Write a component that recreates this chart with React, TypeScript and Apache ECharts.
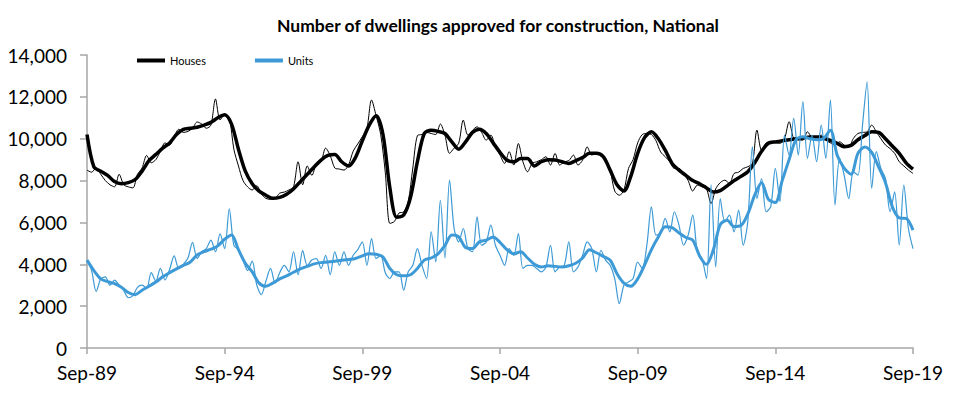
import React, { useEffect, useRef } from "react";
import * as echarts from "echarts";

const titleText = "Number of dwellings approved for construction, National";
const xLabels = ["Sep-89", "Sep-94", "Sep-99", "Sep-04", "Sep-09", "Sep-14", "Sep-19"];

// Trend series, quarterly (Sep-89 .. Sep-19)
const housesTrend = [
  10200, 8650, 8450, 8250, 7950, 7850, 7900, 8050, 8450, 8950, 9250, 9550,
  9800, 10200, 10450, 10500, 10550, 10650, 10780, 11000, 11150, 10700, 9500, 8450,
  7850, 7500, 7300, 7150, 7200, 7350, 7600, 7950, 8300, 8650, 8980, 9200,
  9250, 8900, 8700, 9100, 9900, 10650, 11100, 10200, 7650, 6250, 6350, 7200,
  8900, 10250, 10400, 10350, 10250, 9850, 9500, 9850, 10300, 10450, 10250, 9800,
  9350, 8980, 8900, 9050, 9050, 8700, 8900, 9000, 8980, 8900, 8820, 8950,
  9100, 9300, 9300, 9140, 8500, 7800, 7500, 8200, 9300, 10050, 10330, 10000,
  9450, 8820, 8500, 8250, 8000, 7850, 7650, 7450, 7520, 7750, 8000, 8200,
  8420, 8850, 9400, 9780, 9850, 9900, 9950, 10000, 10030, 10080, 10080, 10020,
  9920, 9780, 9620, 9680, 9950, 10150, 10330, 10300, 10000, 9650, 9300, 8850,
  8550,
];

const unitsTrend = [
  4200, 3700, 3300, 3170, 3080, 2900, 2650, 2550, 2760, 2950, 3150, 3400,
  3600, 3780, 3950, 4110, 4450, 4600, 4720, 4880, 5200, 5400, 4700, 4050,
  3640, 3100, 2950, 3100, 3300, 3450, 3620, 3780, 3900, 4020, 4080, 4110,
  4150, 4190, 4230, 4280, 4400, 4500, 4480, 4350, 3800, 3500, 3450, 3500,
  3800, 4200, 4300, 4500, 4900, 5400, 5310, 4800, 4750, 5070, 5150, 5300,
  5050, 4700, 4500, 4600, 4300, 4000, 3870, 3930, 3900, 3870, 3930, 4050,
  4300, 4700, 4550, 4380, 4200, 3550, 3100, 2950, 3300, 3960, 4700, 5300,
  5790, 5750, 5500, 5280, 5150, 4400, 4000, 4700, 5900, 6100, 5800, 5850,
  6400, 7300, 7900, 7100, 6950, 8000, 9000, 9950, 10090, 10000, 9950, 10010,
  10410, 9200, 8600, 8300, 9300, 9610, 9350, 8650, 7900, 6750, 6220, 6190,
  5630,
];

// Seasonally adjusted series, every second month (Sep-89 .. Sep-19)
const housesSA = [
  8500, 8400, 8600, 8300, 8000, 7800, 7700, 8300, 7800, 7700,
  7650, 8300, 8600, 9200, 8850, 9000, 9400, 9800, 9700, 10100,
  10450, 10300, 10350, 10500, 10800, 10700, 10500, 10650, 11900, 10900,
  11150, 11000, 9500, 8700, 8000, 7700, 7550, 7750, 7350, 7150,
  7100, 7150, 7400, 7450, 7550, 7700, 8900, 7800, 8700, 8250,
  8800, 8900, 9550, 9200, 8600, 8550, 8500, 8750, 9400, 9750,
  10100, 10500, 11850, 11100, 10200, 8400, 5950, 6050, 6450, 6500,
  7000, 8600, 10150, 10200, 10300, 10250, 10200, 10700, 10170, 9300,
  9550, 9780, 10890, 10170, 10400, 10570, 10300, 9930, 10170, 9610,
  9220, 8820, 9380, 8740, 9770, 8900, 8420, 8820, 8900, 9000,
  9140, 8740, 9300, 8740, 8900, 8950, 9220, 8740, 8980, 9610,
  9220, 9300, 9200, 9060, 8500, 7500, 7300, 7540, 8580, 9000,
  9800, 10200, 10250, 10200, 9900, 9370, 9140, 8900, 8580, 8580,
  8340, 8000, 7500, 7780, 7700, 7600, 6900, 7600, 7900, 8020,
  7860, 8340, 8400, 8580, 8660, 8820, 10410, 9450, 9800, 9850,
  9800, 9780, 10000, 10810, 10010, 9950, 9930, 10330, 10090, 10100,
  10170, 9930, 9800, 9690, 9850, 9700, 9610, 10010, 10250, 10300,
  10330, 10650, 10330, 10000, 9700, 9530, 9300, 8900, 8700, 8500,
  8340,
];

const unitsSA = [
  4200, 3700, 2700, 3300, 3400, 3000, 3240, 3000, 2750, 2400,
  2500, 2900, 3000, 2850, 3600, 3200, 3800, 3250, 3750, 4400,
  3800, 4000, 4300, 5050, 4280, 4600, 4750, 5150, 4600, 5450,
  4750, 6650, 4900, 4700, 4200, 3700, 4150, 3000, 2550, 3200,
  3800, 3100, 3600, 3950, 3640, 4600, 3500, 4650, 3950, 4200,
  4270, 3800, 4430, 3500, 4590, 3950, 4590, 3950, 4430, 4700,
  5070, 3950, 5230, 4280, 4430, 3600, 3320, 3640, 3640, 2760,
  3640, 3950, 4750, 3950, 3320, 5550, 4110, 7060, 4300, 8020,
  5710, 5070, 5710, 4750, 4600, 6270, 4910, 5070, 5870, 4910,
  4430, 3950, 4750, 4430, 5470, 3800, 3950, 3950, 3800, 3640,
  3870, 4910, 3640, 3870, 3950, 5070, 3640, 3870, 4430, 5070,
  4750, 3640, 4670, 4200, 3950, 3320, 2120, 3000, 3160, 3320,
  4110, 3800, 4910, 6750, 5390, 5500, 6190, 5550, 6510, 5870,
  4910, 5390, 6350, 4600, 4280, 3320, 7800, 3870, 7140, 6030,
  6350, 5550, 6590, 4910, 6030, 9610, 7140, 8100, 6510, 6750,
  8580, 6990, 10170, 9220, 10970, 9220, 11770, 9060, 10170, 8900,
  10650, 9060, 11850, 6830, 9060, 8260, 7140, 8420, 8260, 10650,
  12720, 7620, 9380, 8580, 8100, 6510, 7460, 4910, 7780, 5710,
  4750,
];

const FONT = "Lato, 'Open Sans', sans-serif";
const AXIS_GREY = "#a6a6a6";
const BLACK = "#000000";
const BLUE = "#3d9ad6";

export default function App() {
  const ref = useRef<HTMLDivElement>(null);

  useEffect(() => {
    document.body.style.margin = "0";
    const chart = echarts.init(ref.current!, null, { renderer: "svg" });
    chart.setOption({
      animation: false,
      backgroundColor: "#ffffff",
      graphic: [
        {
          type: "text",
          x: 498,
          y: 25,
          style: {
            text: titleText,
            fontFamily: FONT,
            fontWeight: "bold",
            fontSize: 17.5,
            fill: "#000",
            align: "center",
            verticalAlign: "middle",
          },
        },
      ],
      legend: {
        left: 132,
        top: 50,
        itemWidth: 28,
        itemHeight: 4,
        itemGap: 49,
        data: [
          { name: "Houses", icon: "rect" },
          { name: "Units", icon: "rect" },
        ],
        textStyle: { fontFamily: FONT, fontSize: 11, color: "#000" },
      },
      grid: { left: 87, right: 45, top: 55, bottom: 54, containLabel: false },
      xAxis: {
        type: "value",
        min: 0,
        max: 360,
        interval: 60,
        axisLine: { show: true, lineStyle: { color: AXIS_GREY, width: 1.5 } },
        axisTick: { show: true, length: 6, lineStyle: { color: AXIS_GREY, width: 1.5 } },
        splitLine: { show: false },
        axisLabel: {
          formatter: (v: number) => xLabels[Math.round(v / 60)] ?? "",
          fontFamily: FONT,
          fontSize: 19,
          color: "#000",
          margin: 15,
        },
      },
      yAxis: {
        type: "value",
        min: 0,
        max: 14000,
        interval: 2000,
        axisLine: { show: true, lineStyle: { color: AXIS_GREY, width: 1.5 } },
        axisTick: { show: true, length: 7, lineStyle: { color: AXIS_GREY, width: 1.5 } },
        splitLine: { show: false },
        axisLabel: {
          formatter: (v: number) => v.toLocaleString("en-US"),
          fontFamily: FONT,
          fontSize: 19,
          color: "#000",
          margin: 20,
        },
      },
      series: [
        {
          name: "Houses SA",
          type: "line",
          data: housesSA.map((v, i) => [i * 2, v]),
          showSymbol: false,
          smooth: 0.3,
          lineStyle: { color: BLACK, width: 1 },
          itemStyle: { color: BLACK },
        },
        {
          name: "Houses",
          type: "line",
          data: housesTrend.map((v, i) => [i * 3, v]),
          showSymbol: false,
          smooth: 0.3,
          lineStyle: { color: BLACK, width: 3.5 },
          itemStyle: { color: BLACK },
        },
        {
          name: "Units SA",
          type: "line",
          data: unitsSA.map((v, i) => [i * 2, v]),
          showSymbol: false,
          smooth: 0.3,
          lineStyle: { color: BLUE, width: 1.2 },
          itemStyle: { color: BLUE },
        },
        {
          name: "Units",
          type: "line",
          data: unitsTrend.map((v, i) => [i * 3, v]),
          showSymbol: false,
          smooth: 0.3,
          lineStyle: { color: BLUE, width: 3 },
          itemStyle: { color: BLUE },
        },
      ],
    });
    return () => chart.dispose();
  }, []);

  return <div ref={ref} style={{ width: 958, height: 402 }} />;
}
